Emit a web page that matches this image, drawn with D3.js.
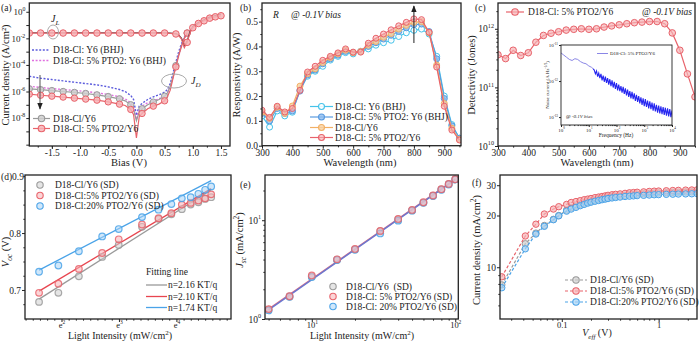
<!DOCTYPE html>
<html>
<head>
<meta charset="utf-8">
<script src="https://cdn.jsdelivr.net/npm/d3@7"></script>
<style>
  body { margin: 0; background: #fff; }
</style>
</head>
<body>
<div id="fig"></div>
<script>
// ---------- (a) J-V, dark and light ----------
const biasLight = [-1.9, -1.7, -1.5, -1.3, -1.1, -0.9, -0.7, -0.5, -0.3, -0.1, 0.1, 0.3, 0.5,
  0.6, 0.7, 0.75, 0.8, 0.85, 0.9, 0.95, 1.0, 1.1, 1.2, 1.3, 1.4, 1.5];
// log10 |J| (A/cm2)
const logJLightY6 = [-1.58, -1.58, -1.58, -1.58, -1.58, -1.58, -1.58, -1.58, -1.58, -1.58, -1.58, -1.58, -1.58,
  -1.6, -1.65, -1.75, -2.0, -2.6, -2.2, -1.5, -1.1, -0.8, -0.6, -0.4, -0.28, -0.18];
const logJLightPTO2 = [-1.6, -1.6, -1.6, -1.6, -1.6, -1.6, -1.6, -1.6, -1.6, -1.6, -1.6, -1.6, -1.6,
  -1.62, -1.67, -1.78, -2.05, -2.7, -2.3, -1.6, -1.2, -0.88, -0.68, -0.48, -0.38, -0.3];

const biasDark = [-1.9, -1.7, -1.5, -1.3, -1.1, -0.9, -0.7, -0.5, -0.3, -0.2, -0.1, -0.05, 0, 0.05, 0.1,
  0.2, 0.3, 0.4, 0.5, 0.55, 0.6, 0.65, 0.7, 0.75, 0.8, 0.85, 0.9];
const logJDarkY6BHJ = [-4.85, -5.0, -5.1, -5.2, -5.3, -5.4, -5.5, -5.65, -5.85, -6.0, -6.3, -6.6, -7.8, -7.1, -6.9,
  -6.6, -6.4, -6.25, -6.05, -5.85, -5.4, -4.6, -3.8, -3.0, -2.4, -1.9, -1.6];
const logJDarkPTO2BHJ = [-5.6, -5.7, -5.78, -5.85, -5.92, -6.0, -6.1, -6.22, -6.4, -6.55, -6.85, -7.2, -8.1, -7.4, -7.1,
  -6.85, -6.7, -6.55, -6.35, -6.1, -5.6, -4.9, -4.1, -3.3, -2.6, -2.0, -1.65];
const logJDarkY6 = [-5.8, -5.86, -5.93, -6.0, -6.07, -6.15, -6.25, -6.38, -6.55, -6.7, -7.0, -7.35, -8.2, -7.55, -7.3,
  -7.0, -6.8, -6.6, -6.35, -6.1, -5.6, -4.85, -4.05, -3.25, -2.55, -1.95, -1.6];
const logJDarkPTO2 = [-6.2, -6.28, -6.35, -6.42, -6.5, -6.57, -6.65, -6.78, -6.95, -7.05, -7.35, -7.75, -9.5, -7.9, -7.65,
  -7.3, -7.1, -6.95, -6.7, -6.4, -5.9, -5.0, -4.15, -3.3, -2.6, -2.0, -1.6];

// ---------- (b) responsivity, (c) detectivity ----------
const wavelength = [300, 325, 350, 375, 400, 425, 450, 475, 500, 525, 550, 575, 600, 625, 650,
  675, 700, 725, 750, 775, 800, 825, 850, 875, 900, 925, 950];
const respY6BHJ = [0.12, 0.075, 0.14, 0.12, 0.135, 0.225, 0.28, 0.3, 0.32, 0.345, 0.36, 0.375, 0.37, 0.38, 0.39,
  0.405, 0.415, 0.425, 0.44, 0.455, 0.465, 0.47, 0.45, 0.36, 0.2, 0.085, 0.03];
const respPTO2BHJ = [0.13, 0.1, 0.15, 0.13, 0.14, 0.22, 0.285, 0.305, 0.33, 0.35, 0.365, 0.38, 0.375, 0.38, 0.4,
  0.415, 0.43, 0.445, 0.46, 0.475, 0.488, 0.49, 0.46, 0.35, 0.19, 0.08, 0.03];
const respY6 = [0.135, 0.11, 0.155, 0.13, 0.16, 0.24, 0.29, 0.31, 0.335, 0.355, 0.37, 0.385, 0.375, 0.38, 0.405,
  0.42, 0.437, 0.452, 0.47, 0.485, 0.497, 0.5, 0.455, 0.325, 0.17, 0.07, 0.025];
const respPTO2 = [0.143, 0.114, 0.159, 0.136, 0.15, 0.223, 0.297, 0.32, 0.344, 0.36, 0.374, 0.39, 0.377, 0.377, 0.413,
  0.433, 0.45, 0.467, 0.483, 0.497, 0.511, 0.508, 0.457, 0.317, 0.159, 0.063, 0.023];
const detectivity = [3.6e11, 3.1e11, 4.3e11, 3.5e11, 3.9e11, 5.9e11, 7.7e11, 8.4e11, 8.9e11, 9.5e11, 9.8e11, 1.0e12, 9.8e11, 1.0e12, 1.07e12,
  1.12e12, 1.17e12, 1.22e12, 1.27e12, 1.3e12, 1.33e12, 1.33e12, 1.22e12, 8.5e11, 4.3e11, 1.7e11, 6.9e10];

// inset: noise current, log10 frequency vs log10 current
const logFreq = [0, 0.1, 0.2, 0.3, 0.4, 0.5, 0.6, 0.7, 0.8, 0.9, 1.0, 1.1, 1.16,
  1.2, 1.24, 1.28, 1.32, 1.36, 1.4, 1.44, 1.48, 1.52, 1.56, 1.6, 1.64, 1.68, 1.72, 1.76, 1.8, 1.84, 1.88, 1.92, 1.96,
  2.0, 2.04, 2.08, 2.12, 2.16, 2.2, 2.24, 2.28, 2.32, 2.36, 2.4, 2.44, 2.48, 2.52, 2.56, 2.6, 2.64, 2.68, 2.72, 2.76,
  2.8, 2.84, 2.88, 2.92, 2.96, 3.0, 3.04, 3.08, 3.12, 3.16, 3.2, 3.24, 3.28, 3.32, 3.36, 3.4, 3.44, 3.48, 3.52, 3.56,
  3.6, 3.64, 3.68, 3.72, 3.76, 3.8, 3.84, 3.88, 3.92, 3.96, 4.0];
const logNoise = [-11.22, -11.28, -11.34, -11.4, -11.43, -11.38, -11.4, -11.46, -11.5, -11.52, -11.58, -11.62, -11.66,
  -11.7, -11.8, -11.72, -11.88, -11.78, -11.92, -11.8, -11.98, -11.85, -12.02, -11.88, -12.05, -11.92, -12.1, -11.95, -12.14, -11.98, -12.18, -12.02, -12.22,
  -12.06, -12.26, -12.1, -12.28, -12.14, -12.32, -12.16, -12.36, -12.2, -12.4, -12.24, -12.44, -12.28, -12.48, -12.3, -12.5, -12.34, -12.55, -12.38, -12.58,
  -12.42, -12.62, -12.45, -12.66, -12.48, -12.7, -12.5, -12.72, -12.54, -12.76, -12.56, -12.78, -12.6, -12.82, -12.62, -12.84, -12.66, -12.88, -12.68, -12.9,
  -12.7, -12.92, -12.72, -12.94, -12.74, -12.96, -12.76, -12.98, -12.78, -13.0, -12.82];

// ---------- (d) Voc, (e) Jsc vs light intensity ----------
const intensity = [5, 7, 10, 15, 20, 30, 40, 50, 60, 70, 80, 90, 100];
const vocY6 = [0.679, 0.695, 0.724, 0.758, 0.779, 0.811, 0.825, 0.833, 0.842, 0.85, 0.854, 0.86, 0.863];
const voc5 = [0.695, 0.711, 0.737, 0.765, 0.789, 0.815, 0.826, 0.835, 0.85, 0.853, 0.857, 0.861, 0.868];
const voc20 = [0.732, 0.743, 0.768, 0.794, 0.807, 0.828, 0.841, 0.851, 0.861, 0.863, 0.869, 0.876, 0.882];
const fitIntensity = [5, 100];
const vocFitY6 = [0.684, 0.876];
const vocFit5 = [0.698, 0.878];
const vocFit20 = [0.735, 0.892];
const fitLabels = ["n=2.16 KT/q", "n=2.10 KT/q", "n=1.74 KT/q"];

const jscY6 = [1.24, 1.69, 2.69, 3.98, 5.07, 7.73, 10.2, 12.6, 15.1, 17.7, 20.5, 23.2, 25.9];
const jsc5 = [1.26, 1.7, 2.76, 4.02, 5.12, 7.8, 10.3, 12.7, 15.2, 17.8, 20.6, 23.3, 26.0];
const jsc20 = [1.22, 1.68, 2.66, 3.95, 5.02, 7.35, 9.9, 12.5, 15.0, 17.6, 20.3, 23.0, 25.8];
const jscFit5 = [1.26, 26.0];
const jscFit20 = [1.24, 25.8];

// ---------- (f) Jph vs Veff ----------
const veff = [0.024, 0.042, 0.054, 0.066, 0.082, 0.093, 0.112, 0.125, 0.14, 0.155, 0.17, 0.185, 0.2,
  0.22, 0.24, 0.26, 0.28, 0.3, 0.33, 0.36, 0.4, 0.45, 0.5, 0.55, 0.6, 0.7, 0.8, 0.9, 1.0,
  1.2, 1.4, 1.6, 1.9, 2.2, 2.5];
const jphY6 = [7.9, 13.7, 15.8, 17.5, 19.0, 20.0, 21.5, 22.2, 22.7, 23.2, 23.6, 23.9, 24.2,
  24.6, 24.85, 25.1, 25.3, 25.5, 25.7, 25.85, 26.0, 26.2, 26.4, 26.5, 26.6, 26.75, 26.9, 27.0, 27.05,
  27.15, 27.25, 27.3, 27.4, 27.45, 27.5];
const jph5 = [8.8, 15.2, 17.8, 20.4, 21.8, 22.5, 23.2, 23.8, 24.1, 24.4, 24.7, 24.9, 25.1,
  25.4, 25.6, 25.8, 26.0, 26.2, 26.4, 26.55, 26.7, 26.9, 27.1, 27.2, 27.3, 27.45, 27.6, 27.7, 27.75,
  27.85, 27.95, 28.0, 28.1, 28.15, 28.2];
const jph20 = [7.6, 12.8, 15.6, 17.3, 18.9, 19.9, 21.2, 21.8, 22.3, 22.8, 23.2, 23.6, 23.9,
  24.2, 24.45, 24.7, 24.9, 25.1, 25.3, 25.45, 25.6, 25.8, 25.9, 26.0, 26.1, 26.2, 26.3, 26.4, 26.45,
  26.55, 26.6, 26.65, 26.7, 26.75, 26.8];

// ---------- styling ----------
const serif = "'Liberation Serif', 'Times New Roman', serif";
const ink = "#222";
const cGrey = "#9a9a9a", fGrey = "#cfcfcf";
const cRed = "#e8636b", fRed = "#f7b3b6";
const cBlue = "#4aa3e8", fBlue = "#a9d4f5";
const cCyan = "#45c3ea", cMid = "#5a9be0", cOrange = "#f2b066";

const svg = d3.select("#fig").append("svg").attr("width", 700).attr("height", 341)
  .style("font-family", serif);

const defs = svg.append("defs");
defs.append("marker").attr("id", "arrow").attr("viewBox", "0 0 10 10")
  .attr("refX", 9).attr("refY", 5).attr("markerWidth", 7).attr("markerHeight", 7)
  .attr("orient", "auto")
  .append("path").attr("d", "M0,1 L10,5 L0,9 z").attr("fill", ink);

let clipId = 0;
function clip(b) {
  const id = "clip" + (clipId++);
  defs.append("clipPath").attr("id", id).append("rect")
    .attr("x", b[0]).attr("y", b[1]).attr("width", b[2] - b[0]).attr("height", b[3] - b[1]);
  return svg.append("g").attr("clip-path", `url(#${id})`);
}

function frame(b, w) {
  svg.append("rect").attr("x", b[0]).attr("y", b[1]).attr("width", b[2] - b[0]).attr("height", b[3] - b[1])
    .attr("fill", "none").attr("stroke", ink).attr("stroke-width", w || 1.3);
}

// o: {size, tick, pad}
function axis(orient, scale, pos, major, minor, fmt, o) {
  o = o || {};
  const size = o.size || 9.5, tick = o.tick || 3.5, pad = o.pad == null ? 1.5 : o.pad;
  const gen = orient === "b" ? d3.axisBottom : d3.axisLeft;
  const g = svg.append("g").attr("transform", orient === "b" ? `translate(0,${pos})` : `translate(${pos},0)`);
  if (minor) g.append("g").call(gen(scale).tickValues(minor).tickSize(tick * 0.55).tickFormat(""));
  const mg = g.append("g").call(gen(scale).tickValues(major).tickSize(tick).tickPadding(pad).tickFormat(""));
  g.selectAll(".domain").remove();
  g.selectAll("line").attr("stroke", ink);
  mg.attr("font-family", serif).attr("font-size", size);
  mg.selectAll(".tick text").attr("fill", ink).each(function (d) {
    const lab = fmt(d), t = d3.select(this);
    if (Array.isArray(lab)) {
      t.append("tspan").text(lab[0]);
      t.append("tspan").attr("dy", -size * 0.45).attr("font-size", size * 0.65).text(lab[1]);
    } else t.text(lab);
  });
  return g;
}
const pow10 = d => ["10", String(Math.round(Math.log10(d)))];
const fix1 = d => d.toFixed(1);

// rich text: parts = [[string, style]], style can contain i / sub / sup
function rich(x, y, parts, o) {
  o = o || {};
  const size = o.size || 10.5;
  const t = svg.append("text")
    .attr("transform", `translate(${x},${y})` + (o.rot ? " rotate(-90)" : ""))
    .attr("text-anchor", o.anchor || "middle").attr("font-size", size).attr("fill", o.color || ink)
    .style("white-space", "pre");
  let shift = 0;
  parts.forEach(([s, st]) => {
    st = st || "";
    const ts = t.append("tspan").text(s);
    const target = st.includes("sub") ? size * 0.3 : st.includes("sup") ? -size * 0.4 : 0;
    if (target !== shift) ts.attr("dy", target - shift);
    shift = target;
    if (st.includes("sub") || st.includes("sup")) ts.attr("font-size", size * 0.7);
    if (st.includes("i")) ts.attr("font-style", "italic");
  });
  return t;
}
function label(x, y, s, o) { return rich(x, y, [[s, (o && o.style) || ""]], o); }

function series(g, xs, ys, sx, sy, o) {
  const pts = xs.map((x, i) => [sx(x), sy(ys[i])]);
  g.append("path").attr("d", d3.line()(pts)).attr("fill", "none")
    .attr("stroke", o.color).attr("stroke-width", o.width || 1.2)
    .attr("stroke-dasharray", o.dash || null);
  if (o.r) {
    g.append("g").selectAll("circle").data(pts.filter((p, i) => !o.mark || o.mark(xs[i])))
      .join("circle").attr("cx", p => p[0]).attr("cy", p => p[1]).attr("r", o.r)
      .attr("fill", o.fill || "none").attr("fill-opacity", o.fop == null ? 0.85 : o.fop)
      .attr("stroke", o.color).attr("stroke-width", 1);
  }
}
function dots(g, xs, ys, sx, sy, o) {
  g.append("g").selectAll("circle").data(xs.map((x, i) => [sx(x), sy(ys[i])]))
    .join("circle").attr("cx", p => p[0]).attr("cy", p => p[1]).attr("r", o.r || 3.3)
    .attr("fill", o.fill).attr("fill-opacity", 0.55).attr("stroke", o.color).attr("stroke-width", 1.2)
    .attr("stroke-opacity", 0.85);
}
function legendRow(x0, x1, y, o, text, tx, size) {
  const g = svg.append("g");
  if (o.line !== false) g.append("line").attr("x1", x0).attr("x2", x1).attr("y1", y).attr("y2", y)
    .attr("stroke", o.color).attr("stroke-width", o.width || 1.2).attr("stroke-dasharray", o.dash || null);
  if (o.r) g.append("circle").attr("cx", (x0 + x1) / 2).attr("cy", y).attr("r", o.r)
    .attr("fill", o.fill || "none").attr("fill-opacity", o.fop == null ? 0.85 : o.fop)
    .attr("stroke", o.color).attr("stroke-width", 1.1);
  label(tx, y + (size || 9.5) * 0.33, text, { size: size || 9.5, anchor: "start" });
}
const oddTenth = v => Math.abs(v * 10 - Math.round(v * 10)) < 1e-6 && Math.abs(Math.round(v * 10)) % 2 === 1;
const topTicks = { size: 9.5, tick: 3, pad: 0.3 };
const bottomTicks = { size: 8.5, tick: 3, pad: 0 };
const leftTicks = { size: 9.5, tick: 3, pad: 1 };

// ================= (a) =================
{
  const b = [29.3, 3, 230, 146];
  const x = d3.scaleLinear([-1.9, 1.66], [b[0], b[2]]);
  const y = d3.scaleLog([Math.pow(10, -10.1), Math.pow(10, 0.66)], [b[3], b[1]]);
  const g = clip(b);
  const p10 = a => a.map(v => Math.pow(10, v));
  series(g, biasDark, p10(logJDarkY6BHJ), x, y, { color: "#5b5bdc", dash: "2,1.6", width: 1.4 });
  series(g, biasDark, p10(logJDarkPTO2BHJ), x, y, { color: "#e070e0", dash: "2,1.6", width: 1.4 });
  series(g, biasDark, p10(logJDarkY6), x, y, { color: cGrey, r: 3.2, fill: fGrey, mark: oddTenth });
  series(g, biasDark, p10(logJDarkPTO2), x, y, { color: cRed, r: 3.2, fill: fRed, mark: oddTenth });
  series(g, biasLight, p10(logJLightY6), x, y, { color: "#444", width: 1.2 });
  series(g, biasLight, p10(logJLightPTO2), x, y, { color: cRed, r: 3.3, fill: fRed,
    mark: v => oddTenth(v) || (v >= 1.0 && Math.abs(v * 10 - Math.round(v * 10)) < 1e-6) });

  frame(b);
  axis("b", x, b[3], [-1.5, -1, -0.5, 0, 0.5, 1, 1.5], d3.range(-1.75, 1.6, 0.25), fix1, topTicks);
  axis("l", y, b[0], d3.range(-10, 1).map(e => Math.pow(10, e)), null,
    d => { const e = Math.round(Math.log10(d)); return e % 2 === 0 && e >= -8 ? ["10", String(e)] : ""; },
    { size: 9, tick: 3, pad: 1 });
  label(129, 166, "Bias (V)");
  label(8.5, 75, "Current density (A/cm²)", { rot: true, size: 10.5 });
  label(1, 11, "(a)", { size: 9.5, anchor: "start" });

  // legends
  legendRow(32, 50, 50, { color: "#5b5bdc", dash: "2,1.6", width: 1.4 }, "D18-Cl: Y6 (BHJ)", 53);
  legendRow(32, 50, 60.5, { color: "#e070e0", dash: "2,1.6", width: 1.4 }, "D18-Cl: 5% PTO2: Y6 (BHJ)", 53);
  legendRow(33, 50, 118.5, { color: cGrey, r: 3.2, fill: fGrey }, "D18-Cl/Y6", 53);
  legendRow(33, 50, 128.5, { color: cRed, r: 3.3, fill: fRed }, "D18-Cl: 5% PTO2/Y6", 53);

  // annotations
  svg.append("line").attr("x1", 40).attr("x2", 40).attr("y1", 75).attr("y2", 109)
    .attr("stroke", "#555").attr("stroke-width", 1).attr("marker-end", "url(#arrow)");
  svg.append("ellipse").attr("cx", 53).attr("cy", 32).attr("rx", 5.5).attr("ry", 7)
    .attr("fill", "none").attr("stroke", "#aaa").attr("stroke-width", 1);
  rich(51, 22, [["J", "i"], ["L", "i sub"]], { size: 10, anchor: "start" });
  svg.append("ellipse").attr("cx", 174).attr("cy", 81).attr("rx", 12.5).attr("ry", 7)
    .attr("fill", "none").attr("stroke", "#aaa").attr("stroke-width", 1);
  rich(191, 84, [["J", "i"], ["D", "i sub"]], { size: 10, anchor: "start" });
}

// ================= (b) =================
{
  const b = [262, 3, 461, 145.7];
  const x = d3.scaleLinear([300, 955], [b[0], b[2]]);
  const y = d3.scaleLinear([0, 0.575], [b[3], b[1]]);
  const g = clip(b);
  series(g, wavelength, respY6BHJ, x, y, { color: cCyan, r: 3, fill: "#fff", fop: 0.9 });
  series(g, wavelength, respPTO2BHJ, x, y, { color: cMid, r: 3, fill: "#8fbdf0", fop: 0.8 });
  series(g, wavelength, respY6, x, y, { color: cOrange, r: 3, fill: "#f8d2a4", fop: 0.8 });
  series(g, wavelength, respPTO2, x, y, { color: cRed, r: 3, fill: fRed, fop: 0.6 });
  frame(b);
  axis("b", x, b[3], d3.range(300, 901, 100), d3.range(350, 951, 100), d => String(d), topTicks);
  axis("l", y, b[0], d3.range(0, 0.51, 0.1), d3.range(0.05, 0.56, 0.1), fix1, leftTicks);
  label(360, 166, "Wavelength (nm)");
  label(240, 75, "Responsivity (A/W)", { rot: true });
  label(240, 11, "(b)", { size: 9.5, anchor: "start" });
  label(273, 18, "R", { size: 9.5, anchor: "start", style: "i" });
  rich(291, 18, [["@ ", ""], ["-0.1V bias", "i"]], { size: 9.5, anchor: "start" });
  svg.append("line").attr("x1", x(800)).attr("x2", x(800)).attr("y1", 43).attr("y2", 6)
    .attr("stroke", ink).attr("stroke-width", 1).attr("marker-end", "url(#arrow)");
  legendRow(310, 333, 106.5, { color: cCyan, r: 3, fill: "#fff" }, "D18-Cl: Y6 (BHJ)", 335, 9.5);
  legendRow(310, 333, 117, { color: cMid, r: 3, fill: "#8fbdf0", fop: 0.8 }, "D18-Cl: 5% PTO2: Y6 (BHJ)", 335, 9.5);
  legendRow(310, 333, 127.5, { color: cOrange, r: 3, fill: "#f8d2a4", fop: 0.8 }, "D18-Cl/Y6", 335, 9.5);
  legendRow(310, 333, 137.5, { color: cRed, r: 3, fill: fRed, fop: 0.6 }, "D18-Cl: 5% PTO2/Y6", 335, 9.5);
}

// ================= (c) =================
{
  const b = [498, 3, 695, 146];
  const x = d3.scaleLinear([300, 950], [b[0], b[2]]);
  const y = d3.scaleLog([1e10, Math.pow(10, 12.44)], [b[3], b[1]]);
  const g = clip(b);
  series(g, wavelength, detectivity, x, y, { color: cRed, r: 3.3, fill: fRed, fop: 0.7 });
  frame(b);
  axis("b", x, b[3], d3.range(300, 901, 100), d3.range(350, 951, 100), d => String(d), topTicks);
  const minor = [];
  [1e10, 1e11, 1e12].forEach(dec => d3.range(2, 10).forEach(k => { if (k * dec < Math.pow(10, 12.44)) minor.push(k * dec); }));
  axis("l", y, b[0], [1e10, 1e11, 1e12], minor, pow10, leftTicks);
  label(597, 166, "Wavelength (nm)");
  label(475, 75, "Detectivity (Jones)", { rot: true });
  label(475, 11, "(c)", { size: 9.5, anchor: "start" });
  legendRow(506, 524, 12, { color: cRed, r: 3.3, fill: fRed, fop: 0.7 }, "D18-Cl: 5% PTO2/Y6", 528, 9.5);
  rich(642, 15, [["@ ", ""], ["-0.1V bias", "i"]], { size: 9.5, anchor: "start" });

  // inset
  const ib = [561, 45, 672, 125];
  svg.append("rect").attr("x", ib[0]).attr("y", ib[1]).attr("width", ib[2] - ib[0]).attr("height", ib[3] - ib[1])
    .attr("fill", "#fff");
  const ix = d3.scaleLinear([0, 4], [ib[0], ib[2]]);
  const iy = d3.scaleLinear([-13.22, -11], [ib[3], ib[1]]);
  const ig = clip(ib);
  ig.append("path").attr("d", d3.line()(logFreq.slice(0, 14).map((f, i) => [ix(f), iy(logNoise[i])])))
    .attr("fill", "none").attr("stroke", "#8a86e6").attr("stroke-width", 1);
  ig.append("path").attr("d", d3.line()(logFreq.slice(12).map((f, i) => [ix(f), iy(logNoise[i + 12])])))
    .attr("fill", "none").attr("stroke", "#2626f0").attr("stroke-width", 1.1);
  frame(ib, 0.9);
  const lx = d3.scaleLog([1, 1e4], [ib[0], ib[2]]);
  const ly = d3.scaleLog([Math.pow(10, -13.22), 1e-11], [ib[3], ib[1]]);
  const lminor = [];
  [1, 10, 100, 1000].forEach(dec => d3.range(2, 10).forEach(k => lminor.push(k * dec)));
  axis("b", lx, ib[3], [1, 10, 100, 1000, 10000], lminor, pow10, { size: 5, tick: 2, pad: 1 });
  axis("l", ly, ib[0], [1e-13, 1e-12, 1e-11], null, pow10, { size: 5, tick: 2, pad: 1 });
  label(616, 137, "Frequency (Hz)", { size: 5.5 });
  rich(549, 85, [["Noise current (A Hz", ""], ["-1/2", "sup"], [")", ""]], { size: 5, rot: true });
  legendRow(597, 608, 53.5, { color: "#8a86e6", width: 1 }, "D18-Cl: 5% PTO2/Y6", 610, 5);
  rich(566, 118, [["@ ", ""], ["-0.1V bias", "i"]], { size: 5, anchor: "start" });
}

// ================= (d) =================
{
  const b = [25, 175, 231, 319];
  const lnI = v => Math.log(v);
  const x = d3.scaleLinear([1.365, 4.95], [b[0], b[2]]);
  const y = d3.scaleLinear([0.649, 0.902], [b[3], b[1]]);
  const sx = v => x(lnI(v));
  const g = clip(b);
  series(g, fitIntensity, vocFitY6, sx, y, { color: cGrey, width: 1.3 });
  series(g, fitIntensity, vocFit5, sx, y, { color: "#e8454f", width: 1.3 });
  series(g, fitIntensity, vocFit20, sx, y, { color: cBlue, width: 1.3 });
  dots(g, intensity, vocY6, sx, y, { color: cGrey, fill: fGrey });
  dots(g, intensity, voc5, sx, y, { color: cRed, fill: fRed });
  dots(g, intensity, voc20, sx, y, { color: cBlue, fill: fBlue });
  frame(b);
  axis("b", x, b[3], [2, 3, 4], d3.range(1.375, 4.95, 0.125).filter(v => v % 1 !== 0), d => ["e", String(d)], bottomTicks);
  axis("l", y, b[0], [0.7, 0.8], [0.675, 0.725, 0.75, 0.775, 0.825, 0.85, 0.875, 0.9], fix1, leftTicks);
  label(1, 180, "(d)0.9", { size: 9.5, anchor: "start" });
  rich(120, 338.5, [["Light Intensity (mW/cm", ""], ["2", "sup"], [")", ""]], { size: 10 });
  rich(8.5, 252, [["V", "i"], ["oc", "i sub"], [" (V)", ""]], { rot: true });
  legendRow(34, 46, 185, { line: false, color: cGrey, r: 3.2, fill: fGrey, fop: 0.55 }, "D18-Cl/Y6 (SD)", 55);
  legendRow(34, 46, 195.5, { line: false, color: cRed, r: 3.2, fill: fRed, fop: 0.55 }, "D18-Cl:5% PTO2/Y6 (SD)", 55);
  legendRow(34, 46, 206, { line: false, color: cBlue, r: 3.2, fill: fBlue, fop: 0.55 }, "D18-Cl:20% PTO2/Y6 (SD)", 55);
  label(146, 275, "Fitting line", { size: 9.5, anchor: "start" });
  legendRow(146, 167, 285, { color: cGrey, width: 1.3 }, fitLabels[0], 168);
  legendRow(146, 167, 296.5, { color: "#e8454f", width: 1.3 }, fitLabels[1], 168);
  legendRow(146, 167, 307.5, { color: cBlue, width: 1.3 }, fitLabels[2], 168);
}

// ================= (e) =================
{
  const b = [265, 175, 458.3, 319];
  const x = d3.scaleLog([4.72, 105], [b[0], b[2]]);
  const y = d3.scaleLog([1, 28.7], [b[3], b[1]]);
  const g = clip(b);
  series(g, fitIntensity, jscFit5, x, y, { color: "#e06b80", width: 1.5 });
  series(g, fitIntensity, jscFit20, x, y, { color: "#6a78d0", width: 1.5 });
  dots(g, intensity, jscY6, x, y, { color: cGrey, fill: fGrey });
  dots(g, intensity, jsc20, x, y, { color: cBlue, fill: fBlue });
  dots(g, intensity, jsc5, x, y, { color: cRed, fill: fRed });
  frame(b);
  axis("b", x, b[3], [10, 100], [5, 6, 7, 8, 9, 20, 30, 40, 50, 60, 70, 80, 90], pow10, bottomTicks);
  axis("l", y, b[0], [1, 10], [2, 3, 4, 5, 6, 7, 8, 9, 20], pow10, leftTicks);
  label(240, 188, "(e)", { size: 9.5, anchor: "start" });
  rich(362, 338.5, [["Light Intensity (mW/cm", ""], ["2", "sup"], [")", ""]], { size: 10 });
  rich(243, 240, [["J", "i"], ["sc", "i sub"], [" (mA/cm", ""], ["2", "sup"], [")", ""]], { rot: true });
  legendRow(327, 339, 286.5, { line: false, color: cGrey, r: 3.2, fill: fGrey, fop: 0.55 }, "D18-Cl/Y6  (SD)", 346);
  legendRow(327, 339, 296.5, { line: false, color: cRed, r: 3.2, fill: fRed, fop: 0.55 }, "D18-Cl: 5% PTO2/Y6 (SD)", 346);
  legendRow(327, 339, 306.5, { line: false, color: cBlue, r: 3.2, fill: fBlue, fop: 0.55 }, "D18-Cl: 20% PTO2/Y6 (SD)", 346);
}

// ================= (f) =================
{
  const b = [500, 175, 697, 319];
  const x = d3.scaleLog([0.023, 2.49], [b[0], b[2]]);
  const y = d3.scaleLog([5, 34.4], [b[3], b[1]]);
  const g = clip(b);
  series(g, veff, jphY6, x, y, { color: cGrey, dash: "3,2", r: 3.2, fill: fGrey, fop: 0.7 });
  series(g, veff, jph5, x, y, { color: cRed, dash: "3,2", r: 3.2, fill: fRed, fop: 0.7 });
  series(g, veff, jph20, x, y, { color: cBlue, dash: "3,2", r: 3.2, fill: fBlue, fop: 0.7 });
  frame(b);
  axis("b", x, b[3], [0.1, 1], [0.03, 0.04, 0.05, 0.06, 0.07, 0.08, 0.09, 0.2, 0.3, 0.4, 0.5, 0.6, 0.7, 0.8, 0.9, 2], d => String(d), bottomTicks);
  axis("l", y, b[0], [10, 20, 30], [6, 7, 8, 9], d => String(d), leftTicks);
  label(472, 186, "(f)", { size: 9.5, anchor: "start" });
  rich(597, 336, [["V", "i"], ["eff", "i sub"], [" (V)", ""]], { size: 10 });
  rich(480, 250, [["Current density (mA/cm", ""], ["2", "sup"], [")", ""]], { rot: true });
  legendRow(565, 587, 280, { color: cGrey, dash: "3,2", r: 3.2, fill: fGrey, fop: 0.7 }, "D18-Cl/Y6 (SD)", 590);
  legendRow(565, 587, 291, { color: cRed, dash: "3,2", r: 3.2, fill: fRed, fop: 0.7 }, "D18-Cl:5% PTO2/Y6 (SD)", 590);
  legendRow(565, 587, 302, { color: cBlue, dash: "3,2", r: 3.2, fill: fBlue, fop: 0.7 }, "D18-Cl:20% PTO2/Y6 (SD)", 590);
}
</script>
</body>
</html>
